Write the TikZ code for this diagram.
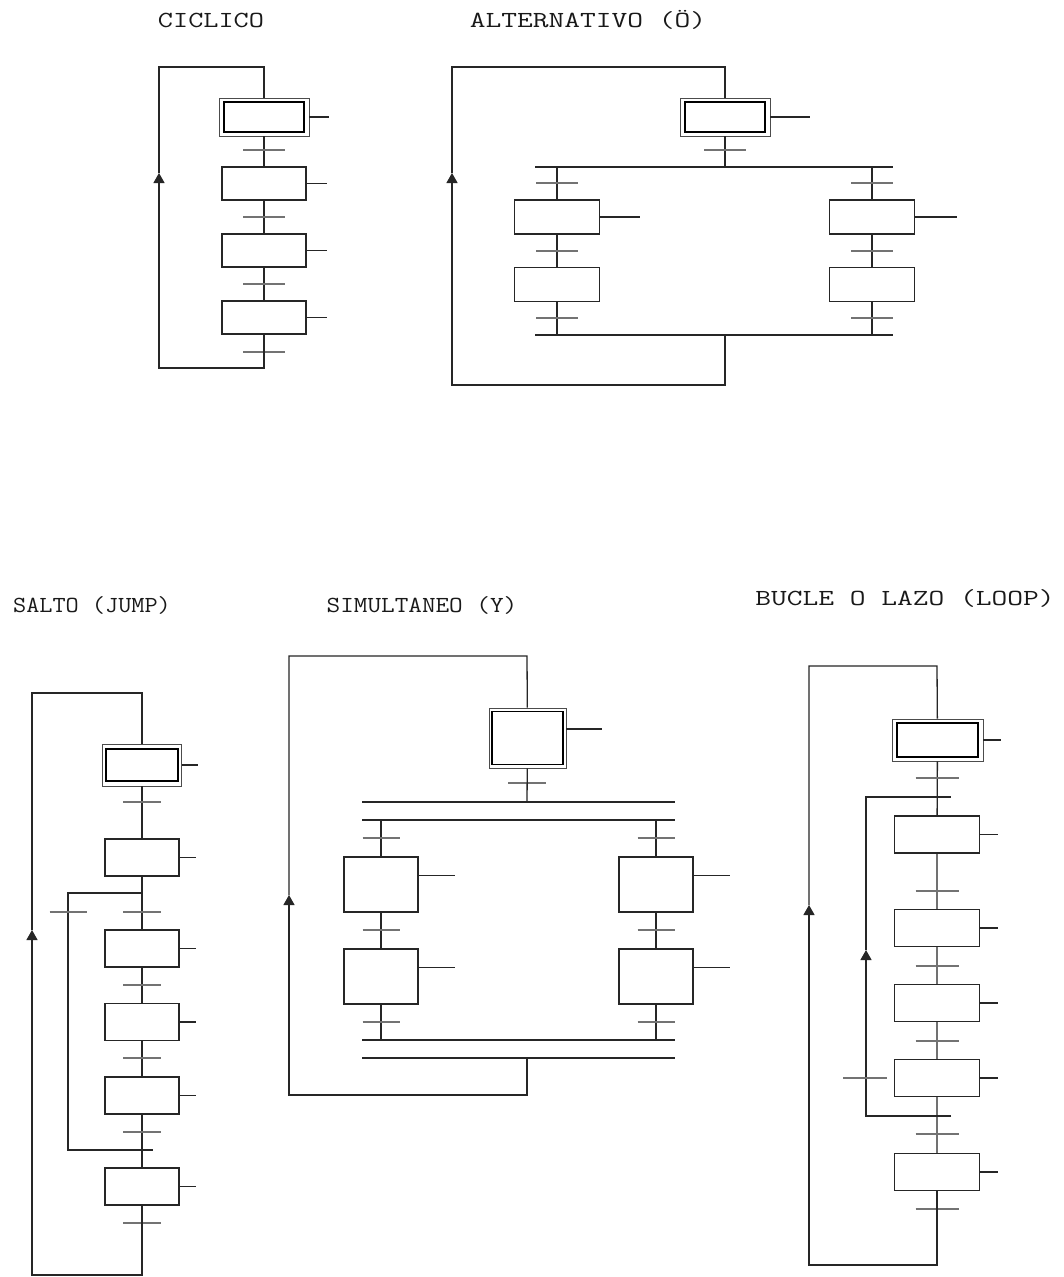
\documentclass[tikz,border=0pt]{standalone}
\usepackage{fontspec}
\usetikzlibrary{arrows.meta,calc}
\tikzset{
 link/.style={line width=1.3pt,black!85},
 trl/.style={line width=1.4pt,black!55},
 stepbox/.style={draw=black!85,line width=1.3pt,inner sep=0pt},
 initbox/.style={draw=black!70,line width=0.9pt,inner sep=0pt},
 innerline/.style={line width=2pt,black},
 arr/.style={-{Triangle[width=11pt,length=10pt]}},
 ttl/.style={font=\ttfamily\fontsize{23}{25}\selectfont,inner sep=0pt,text=black!90},
}
\newcommand\grtr[3][42]{\draw[trl] ({#2-#1/2},#3) -- ({#2+#1/2},#3);}
\begin{document}
\begin{tikzpicture}[x=1pt,y=-1pt]
\useasboundingbox[fill=white] (0,0) rectangle (1064,1277);

% ---------------- CICLICO ----------------
\node[ttl] (t1) at (211,20) {\scalebox{1.28}[1]{CICLICO}};
\node[initbox,minimum width=90pt,minimum height=38pt] (c1) at (264,117) {};
\draw[innerline] ($(c1.north west)+(5,4)$) rectangle ($(c1.south east)+(-5,-4)$);
\node[stepbox,minimum width=84pt,minimum height=33pt] (c2) at (264,183.5) {};
\node[stepbox,minimum width=84pt,minimum height=33pt] (c3) at (264,250.5) {};
\node[stepbox,minimum width=84pt,minimum height=33pt] (c4) at (264,317.5) {};
\draw[link] (c1) -- (c2) (c2) -- (c3) (c3) -- (c4);
\foreach \n in {c1,c2,c3,c4} \draw[link] (\n.east) -- ++(20,0);
\foreach \y in {150,217,284,352} \grtr{264}{\y};
\coordinate (cBR) at (264,368);
\coordinate (cBL) at (159,368);
\coordinate (cA) at (159,173);
\coordinate (cTL) at (159,67);
\coordinate (cTR) at (264,67);
\draw[link,arr] (c4) -- (cBR) -- (cBL) -- (cA);
\draw[link] (cA) -- (cTL) -- (cTR) -- (c1);

% ---------------- ALTERNATIVO ----------------
\node[ttl] (t2) at (588,20) {\scalebox{1.33}[1]{ALTERNATIVO (Ö)}};
\node[initbox,minimum width=90pt,minimum height=38pt] (a0) at (725,117) {};
\draw[innerline] ($(a0.north west)+(5,4)$) rectangle ($(a0.south east)+(-5,-4)$);
\draw[link] (a0.east) -- ++(40,0);
\coordinate (aD) at (725,167);
\draw[link] (a0) -- (aD);
\grtr{725}{150}
\coordinate (aDL) at (535,167);
\coordinate (aDR) at (893,167);
\draw[link] (aDL) -- (aDR);
\coordinate (aL) at (557,167);
\coordinate (aR) at (872,167);
\node[stepbox,minimum width=85pt,minimum height=34pt] (al1) at (557,217) {};
\node[stepbox,minimum width=85pt,minimum height=34pt] (al2) at (557,284.5) {};
\node[stepbox,minimum width=85pt,minimum height=34pt] (ar1) at (872,217) {};
\node[stepbox,minimum width=85pt,minimum height=34pt] (ar2) at (872,284.5) {};
\coordinate (aCL) at (557,335);
\coordinate (aCR) at (872,335);
\coordinate (aC) at (725,335);
\coordinate (aEL) at (535,335);
\coordinate (aER) at (893,335);
\draw[link] (aL) -- (al1) -- (al2) -- (aCL);
\draw[link] (aR) -- (ar1) -- (ar2) -- (aCR);
\draw[link] (aEL) -- (aER);
\draw[link] (al1.east) -- ++(40,0);
\draw[link] (ar1.east) -- ++(42,0);
\foreach \y in {183,251,318} {\grtr{557}{\y}\grtr{872}{\y}}
\coordinate (aBR) at (725,385);
\coordinate (aBL) at (452,385);
\coordinate (aA) at (452,173);
\coordinate (aTL) at (452,67);
\coordinate (aTR) at (725,67);
\draw[link,arr] (aC) -- (aBR) -- (aBL) -- (aA);
\draw[link] (aA) -- (aTL) -- (aTR) -- (a0);

% ---------------- SALTO ----------------
\node[ttl] (t3) at (92,605) {\scalebox{1.11}[1]{SALTO (JUMP)}};
\node[initbox,minimum width=79pt,minimum height=42pt] (s0) at (142,765) {};
\draw[innerline] ($(s0.north west)+(4,5)$) rectangle ($(s0.south east)+(-4,-5)$);
\node[stepbox,minimum width=74pt,minimum height=37pt] (s1) at (142,857.5) {};
\node[stepbox,minimum width=74pt,minimum height=37pt] (s2) at (142,948.5) {};
\node[stepbox,minimum width=74pt,minimum height=37pt] (s3) at (142,1022) {};
\node[stepbox,minimum width=74pt,minimum height=37pt] (s4) at (142,1095.5) {};
\node[stepbox,minimum width=74pt,minimum height=37pt] (s5) at (142,1186.5) {};
\draw[link] (s0) -- (s1) (s1) -- (s2) (s2) -- (s3) (s3) -- (s4) (s4) -- (s5);
\foreach \n in {s0,s1,s2,s3,s4,s5} \draw[link] (\n.east) -- ++(16,0);
\coordinate (sJ1) at (142,893);
\coordinate (sJ2) at (68,893);
\coordinate (sJ3) at (68,1150);
\coordinate (sJ4) at (153,1150);
\draw[link] (sJ1) -- (sJ2) -- (sJ3) -- (sJ4);
\foreach \y in {802,912,985,1058,1132,1223} \grtr[38]{142}{\y};
\grtr[37]{68}{912}
\coordinate (sBR) at (142,1275);
\coordinate (sBL) at (32,1275);
\coordinate (sA) at (32,930);
\coordinate (sTL) at (32,693);
\coordinate (sTR) at (142,693);
\draw[link,arr] (s5) -- (sBR) -- (sBL) -- (sA);
\draw[link] (sA) -- (sTL) -- (sTR) -- (s0);

% ---------------- SIMULTANEO ----------------
\node[ttl] (t4) at (422,605) {\scalebox{1.15}[1]{SIMULTANEO (Y)}};
\node[initbox,minimum width=77pt,minimum height=60pt] (m0) at (527.5,738) {};
\draw[innerline,line width=1.4pt] ($(m0.north west)+(3.5,4)$) rectangle ($(m0.south east)+(-3.5,-4)$);
\draw[link] ($(m0.east)+(0,-9)$) -- ++(36,0);
\grtr[38]{527}{783}
\coordinate (mD) at (527,802);
\draw[link] (m0) -- (mD);
\coordinate (mD1L) at (362,802);
\coordinate (mD1R) at (675,802);
\coordinate (mD2L) at (362,820);
\coordinate (mD2R) at (675,820);
\draw[link] (mD1L) -- (mD1R) (mD2L) -- (mD2R);
\coordinate (mL) at (381,820);
\coordinate (mR) at (656,820);
\node[stepbox,minimum width=74pt,minimum height=55pt] (ml1) at (381,884.5) {};
\node[stepbox,minimum width=74pt,minimum height=55pt] (ml2) at (381,976.5) {};
\node[stepbox,minimum width=74pt,minimum height=55pt] (mr1) at (656,884.5) {};
\node[stepbox,minimum width=74pt,minimum height=55pt] (mr2) at (656,976.5) {};
\coordinate (mCL) at (381,1040);
\coordinate (mCR) at (656,1040);
\draw[link] (mL) -- (ml1) -- (ml2) -- (mCL);
\draw[link] (mR) -- (mr1) -- (mr2) -- (mCR);
\coordinate (mE1L) at (362,1040);
\coordinate (mE1R) at (675,1040);
\coordinate (mE2L) at (362,1058);
\coordinate (mE2R) at (675,1058);
\draw[link] (mE1L) -- (mE1R) (mE2L) -- (mE2R);
\foreach \n in {ml1,ml2,mr1,mr2} \draw[link] ($(\n.east)+(0,-9)$) -- ++(36,0);
\foreach \y in {838,930,1022} {\grtr[37]{381}{\y}\grtr[37]{656}{\y}}
\coordinate (mC) at (527,1058);
\coordinate (mBR) at (527,1095);
\coordinate (mBL) at (289,1095);
\coordinate (mA) at (289,895);
\coordinate (mTL) at (289,656);
\coordinate (mTR) at (527,656);
\draw[link,arr] (mC) -- (mBR) -- (mBL) -- (mA);
\draw[link] (mA) -- (mTL) -- (mTR) -- (m0);

% ---------------- BUCLE ----------------
\node[ttl] (t5) at (905,598) {\scalebox{1.33}[1]{BUCLE O LAZO (LOOP)}};
\node[initbox,minimum width=91pt,minimum height=42pt] (b0) at (937.5,740) {};
\draw[innerline] ($(b0.north west)+(5,4)$) rectangle ($(b0.south east)+(-5,-4)$);
\node[stepbox,minimum width=85pt,minimum height=37pt] (b1) at (937,834.5) {};
\node[stepbox,minimum width=85pt,minimum height=37pt] (b2) at (937,928) {};
\node[stepbox,minimum width=85pt,minimum height=37pt] (b3) at (937,1003) {};
\node[stepbox,minimum width=85pt,minimum height=37pt] (b4) at (937,1078) {};
\node[stepbox,minimum width=85pt,minimum height=37pt] (b5) at (937,1172) {};
\draw[link] (b0) -- (b1) (b1) -- (b2) (b2) -- (b3) (b3) -- (b4) (b4) -- (b5);
\foreach \n in {b0,b1,b2,b3,b4,b5} \draw[link] (\n.east) -- ++(18,0);
\foreach \y in {778,891,966,1041,1134,1209} \grtr[43]{937}{\y};
\coordinate (bJ1) at (951,1116);
\coordinate (bJ2) at (866,1116);
\coordinate (bJA) at (866,950);
\coordinate (bJ3) at (866,797);
\coordinate (bJ4) at (951,797);
\draw[link,arr] (bJ1) -- (bJ2) -- (bJA);
\draw[link] (bJA) -- (bJ3) -- (bJ4);
\grtr[44]{865}{1078}
\coordinate (bBR) at (937,1265);
\coordinate (bBL) at (809,1265);
\coordinate (bA) at (809,905);
\coordinate (bTL) at (809,666);
\coordinate (bTR) at (937,666);
\draw[link,arr] (b5) -- (bBR) -- (bBL) -- (bA);
\draw[link] (bA) -- (bTL) -- (bTR) -- (b0);
\end{tikzpicture}
\end{document}
